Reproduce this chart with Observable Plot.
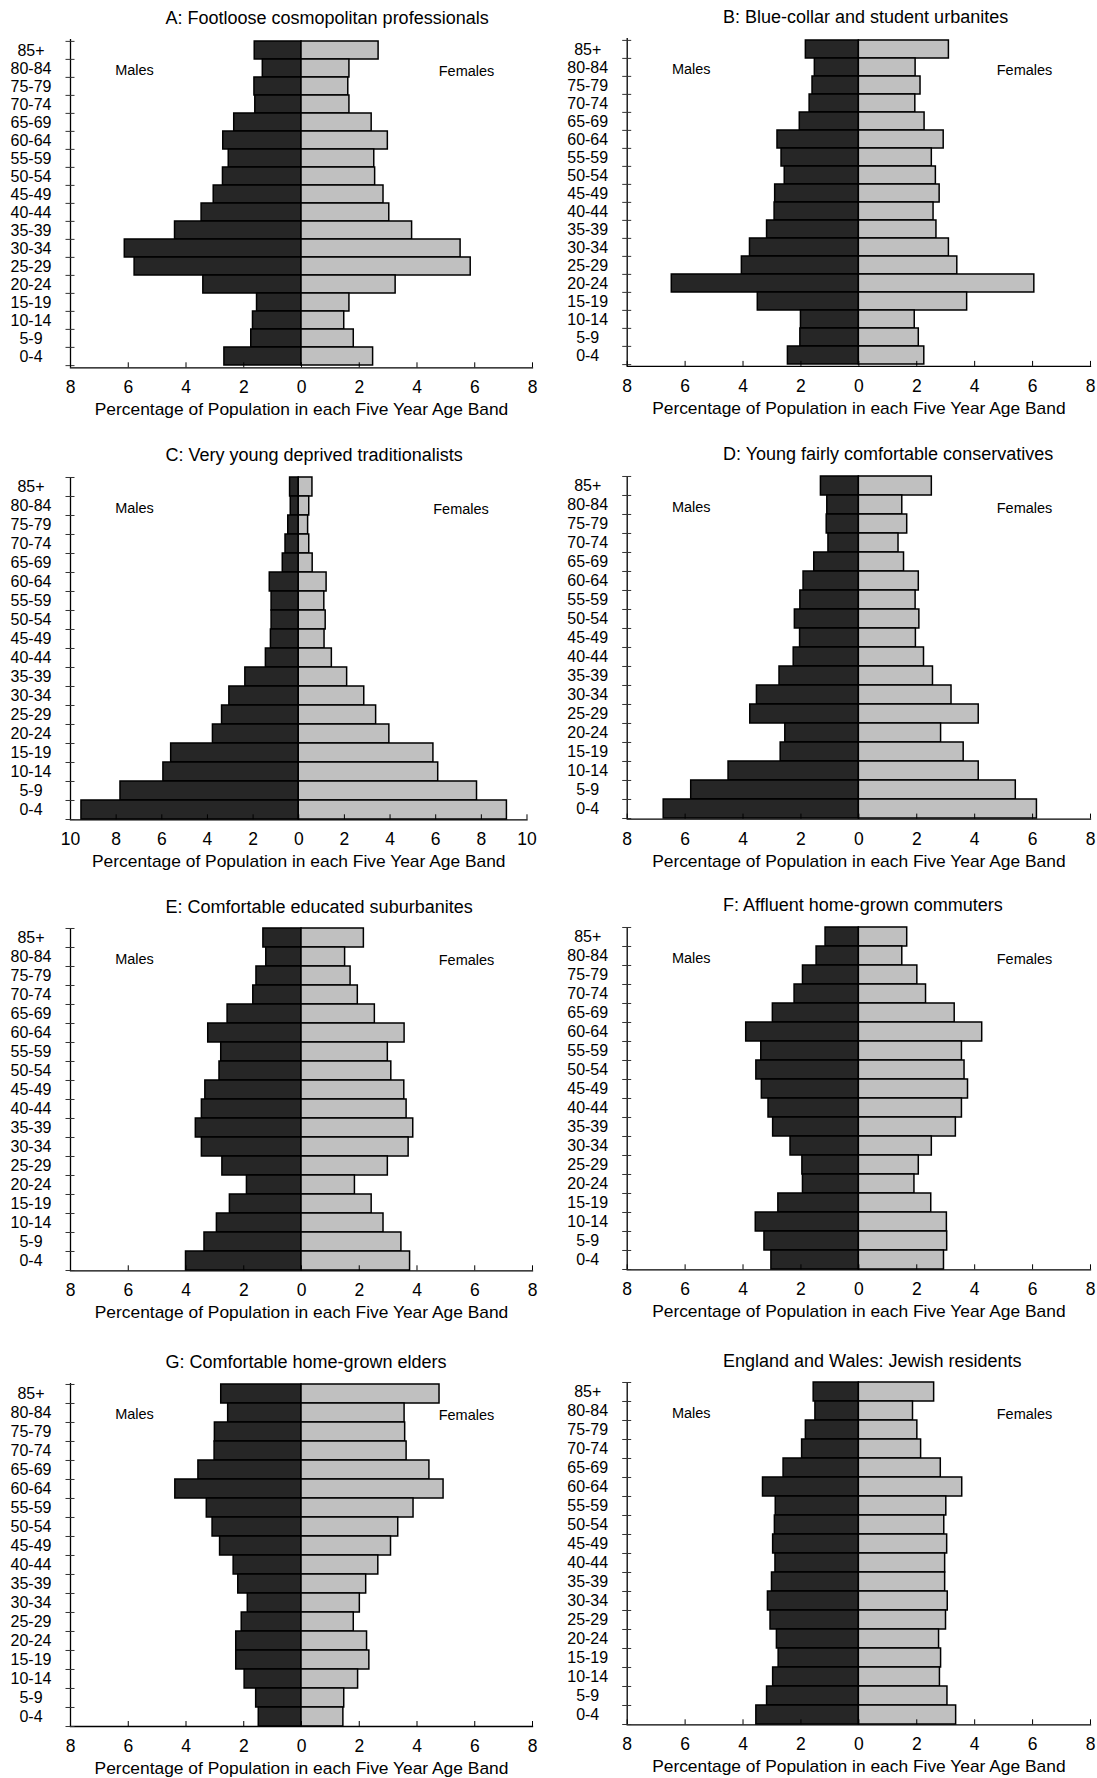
<!DOCTYPE html>
<html>
<head>
<meta charset="utf-8">
<script src="https://cdn.jsdelivr.net/npm/d3@7"></script>
<script src="https://cdn.jsdelivr.net/npm/@observablehq/plot@0.6"></script>
<style>
  html, body { margin: 0; padding: 0; background: #fff; overflow: hidden; }
  #root { position: relative; width: 1097px; height: 1778px; font-family: "Liberation Sans", Arial, sans-serif; }
  .title { position: absolute; font-size: 18px; line-height: 18px; color: #000; white-space: nowrap; }
  .panel { position: absolute; }
  .panel svg { overflow: visible; }
</style>
</head>
<body>
<div id="root"></div>
<script>
// Age bands, top to bottom
const ages = ["85+","80-84","75-79","70-74","65-69","60-64","55-59","50-54","45-49","40-44","35-39","30-34","25-29","20-24","15-19","10-14","5-9","0-4"];

const titles = [
  "A: Footloose cosmopolitan professionals",
  "B: Blue-collar and student urbanites",
  "C: Very young deprived traditionalists",
  "D: Young fairly comfortable conservatives",
  "E: Comfortable educated suburbanites",
  "F: Affluent home-grown commuters",
  "G: Comfortable home-grown elders",
  "England and Wales: Jewish residents"
];

const axisMax = [8, 8, 10, 8, 8, 8, 8, 8];
const xAxisTitle = "Percentage of Population in each Five Year Age Band";
const maleLabel = "Males";
const femaleLabel = "Females";

// Percentages (males, females) per age band, 85+ first
const maleA   = [1.62,1.34,1.63,1.60,2.33,2.71,2.52,2.72,3.04,3.46,4.38,6.12,5.78,3.40,1.54,1.68,1.74,2.67];
const femaleA = [2.67,1.66,1.62,1.66,2.43,2.99,2.52,2.55,2.84,3.04,3.83,5.51,5.86,3.26,1.66,1.48,1.81,2.48];

const maleB   = [1.83,1.52,1.60,1.70,2.04,2.81,2.67,2.56,2.89,2.91,3.17,3.76,4.04,6.46,3.49,2.00,2.02,2.45];
const femaleB = [3.11,1.96,2.13,1.95,2.27,2.93,2.52,2.66,2.79,2.58,2.68,3.11,3.40,6.06,3.74,1.93,2.07,2.26];

const maleC   = [0.38,0.35,0.46,0.58,0.70,1.27,1.19,1.19,1.22,1.44,2.34,3.04,3.36,3.76,5.59,5.93,7.81,9.52];
const femaleC = [0.60,0.46,0.41,0.46,0.61,1.22,1.12,1.18,1.13,1.45,2.12,2.87,3.39,3.97,5.90,6.11,7.81,9.12];

const maleD   = [1.31,1.09,1.11,1.05,1.54,1.91,2.02,2.21,2.03,2.25,2.74,3.52,3.75,2.54,2.70,4.50,5.79,6.74];
const femaleD = [2.52,1.50,1.67,1.37,1.56,2.07,1.96,2.09,1.97,2.25,2.56,3.20,4.14,2.84,3.62,4.14,5.42,6.15];

const maleE   = [1.32,1.22,1.56,1.67,2.56,3.23,2.78,2.84,3.33,3.45,3.66,3.45,2.74,1.89,2.48,2.93,3.36,4.00];
const femaleE = [2.16,1.51,1.70,1.95,2.54,3.57,2.99,3.11,3.56,3.64,3.87,3.71,2.99,1.85,2.43,2.84,3.46,3.76];

const maleF   = [1.15,1.46,1.93,2.22,2.97,3.89,3.37,3.54,3.35,3.12,2.96,2.36,1.95,1.93,2.78,3.56,3.26,3.02];
const femaleF = [1.67,1.50,2.02,2.32,3.31,4.26,3.56,3.65,3.77,3.56,3.35,2.52,2.07,1.92,2.50,3.04,3.05,2.94];

const maleG   = [2.78,2.54,3.00,3.01,3.57,4.37,3.28,3.08,2.82,2.35,2.19,1.86,2.07,2.26,2.26,1.97,1.57,1.48];
const femaleG = [4.78,3.57,3.59,3.64,4.43,4.92,3.88,3.35,3.10,2.66,2.24,2.02,1.81,2.27,2.35,1.96,1.48,1.45];

const maleH   = [1.56,1.50,1.83,1.96,2.60,3.31,2.87,2.90,2.96,2.88,3.00,3.14,3.05,2.83,2.77,2.96,3.17,3.54];
const femaleH = [2.60,1.87,2.02,2.15,2.83,3.57,3.02,2.95,3.05,2.98,2.98,3.07,3.01,2.77,2.84,2.80,3.06,3.36];

const males = [maleA, maleB, maleC, maleD, maleE, maleF, maleG, maleH];
const females = [femaleA, femaleB, femaleC, femaleD, femaleE, femaleF, femaleG, femaleH];

// Page layout (pixels)
const layout = [
  {left: 0,   width: 548, frameL: 70,    frameR: 532,  top: 39,    bottom: 367.3, titleX: 165.5, titleY: 18.3},
  {left: 548, width: 549, frameL: 626.7, frameR: 1090, top: 37.6,  bottom: 365.5, titleX: 723,   titleY: 17},
  {left: 0,   width: 548, frameL: 70,    frameR: 526.5,top: 476.7, bottom: 819,   titleX: 165.5, titleY: 455},
  {left: 548, width: 549, frameL: 626.7, frameR: 1090, top: 475.7, bottom: 818.3, titleX: 723,   titleY: 454},
  {left: 0,   width: 548, frameL: 70,    frameR: 532,  top: 927.7, bottom: 1270,  titleX: 165.5, titleY: 906.5},
  {left: 548, width: 549, frameL: 626.7, frameR: 1090, top: 926.7, bottom: 1269,  titleX: 723,   titleY: 905},
  {left: 0,   width: 548, frameL: 70,    frameR: 532,  top: 1382.7,bottom: 1725.7,titleX: 165.5, titleY: 1361.7},
  {left: 548, width: 549, frameL: 626.7, frameR: 1090, top: 1381.7,bottom: 1724,  titleX: 723,   titleY: 1360.7}
];

const FONT = '"Liberation Sans", Arial, Helvetica, sans-serif';
const root = document.getElementById("root");

titles.forEach((t, k) => {
  const g = layout[k];
  const max = axisMax[k];
  const rows = ages.map((age, i) => ({age, male: males[k][i], female: females[k][i]}));
  const mt = 14, mb = 56;
  const fh = g.bottom - g.top;
  const bw = fh / ages.length;
  const ticksX = d3.range(-max, max + 1, 2);

  const svg = Plot.plot({
    width: g.width,
    height: fh + mt + mb,
    marginTop: mt,
    marginBottom: mb,
    marginLeft: g.frameL - g.left,
    marginRight: g.left + g.width - g.frameR,
    style: {fontFamily: FONT, color: "#000", background: "transparent", overflow: "visible"},
    x: {domain: [-max, max], label: null},
    y: {domain: ages, padding: 0, label: null},
    marks: [
      Plot.barX(rows, {y: "age", x1: 0, x2: d => -d.male, fill: "#262626", stroke: "#000", strokeWidth: 1.5}),
      Plot.barX(rows, {y: "age", x1: 0, x2: "female", fill: "#c0c0c0", stroke: "#000", strokeWidth: 1.5}),
      Plot.frame({anchor: "bottom", stroke: "#000", strokeWidth: 1.3}),
      Plot.ruleX([-max], {stroke: "#000", strokeWidth: 1.3}),
      Plot.axisY(ages, {tickSize: 9, dx: 4.5, dy: -bw / 2, tickFormat: () => "", label: null, stroke: "#333"}),
      Plot.axisY([ages[ages.length - 1]], {tickSize: 9, dx: 4.5, dy: bw / 2, tickFormat: () => "", label: null, stroke: "#333"}),
      Plot.axisY(ages, {tickSize: 0, tickPadding: 39.5, textAnchor: "middle", fontSize: 16, label: null}),
      Plot.axisX(ticksX, {tickSize: -5, tickPadding: 18, tickFormat: d => Math.abs(d), fontSize: 17.5, label: null}),
      Plot.text([xAxisTitle], {text: d => d, frameAnchor: "bottom", textAnchor: "middle", lineAnchor: "middle", dy: 42, fontSize: 17.4}),
      Plot.text([maleLabel], {text: d => d, frameAnchor: "top-left", textAnchor: "middle", lineAnchor: "middle", dx: 64, dy: 30.5, fontSize: 14.5}),
      Plot.text([femaleLabel], {text: d => d, frameAnchor: "top-right", textAnchor: "middle", lineAnchor: "middle", dx: -66, dy: 31.5, fontSize: 14.5})
    ]
  });

  const div = document.createElement("div");
  div.className = "panel";
  div.style.left = g.left + "px";
  div.style.top = (g.top - mt) + "px";
  div.appendChild(svg);
  root.appendChild(div);

  const title = document.createElement("div");
  title.className = "title";
  title.textContent = t;
  title.style.left = g.titleX + "px";
  title.style.top = (g.titleY - 9) + "px";
  root.appendChild(title);
});
</script>
</body>
</html>
